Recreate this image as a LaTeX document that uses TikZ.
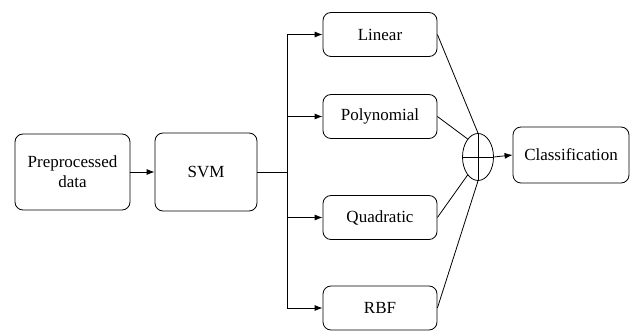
\documentclass[tikz,border=0pt]{standalone}
\usepackage{fontspec}
\setmainfont{Liberation Serif}
\usetikzlibrary{shapes.geometric,arrows.meta}

\begin{document}
\begin{tikzpicture}[x=1pt,y=-1pt,line width=0.8pt,
    blk/.style={draw,rounded corners=8pt,inner sep=0pt,align=center,
      font=\fontsize{17}{20}\selectfont},
    lbox/.style={blk,minimum width=114pt,minimum height=44pt},
    arr/.style={-{Latex[length=8pt,width=6pt]}}]
  \useasboundingbox (0,0) rectangle (632,331);

  \node[blk,minimum width=115pt,minimum height=76pt] (prep) at (72.5,172) {Preprocessed\\data};
  \node[blk,minimum width=102pt,minimum height=78pt] (svm) at (206,172) {SVM};
  \node[lbox] (lin) at (380,34.5) {Linear};
  \node[lbox] (poly) at (380,116.5) {Polynomial};
  \node[lbox] (quad) at (380,217.5) {Quadratic};
  \node[lbox] (rbf) at (380,308) {RBF};
  \node[draw,ellipse,minimum width=31pt,minimum height=47pt,inner sep=0pt] (sum) at (478,157) {};
  \node[blk,minimum width=116pt,minimum height=56pt] (cls) at (571,155) {Classification};

  \draw[arr] (prep) -- (svm);
  \draw (svm.east) -- (287,172) coordinate (br);
  \draw (br |- lin.west) -- (br |- rbf.west);
  \foreach \k in {lin,poly,quad,rbf} {
    \draw[arr] (br |- \k.west) -- (\k.west);
  }

  % summing junction
  \draw (sum.north) -- (sum.south);
  \draw (sum.west) -- (sum.east);
  \draw (lin.east) -- (sum.north);
  \draw (poly.east) -- (sum.120);
  \draw (quad.east) -- (sum.240);
  \draw (rbf.east) -- (sum.south);
  \draw[arr] (sum.east) -- (cls.west);
\end{tikzpicture}
\end{document}
